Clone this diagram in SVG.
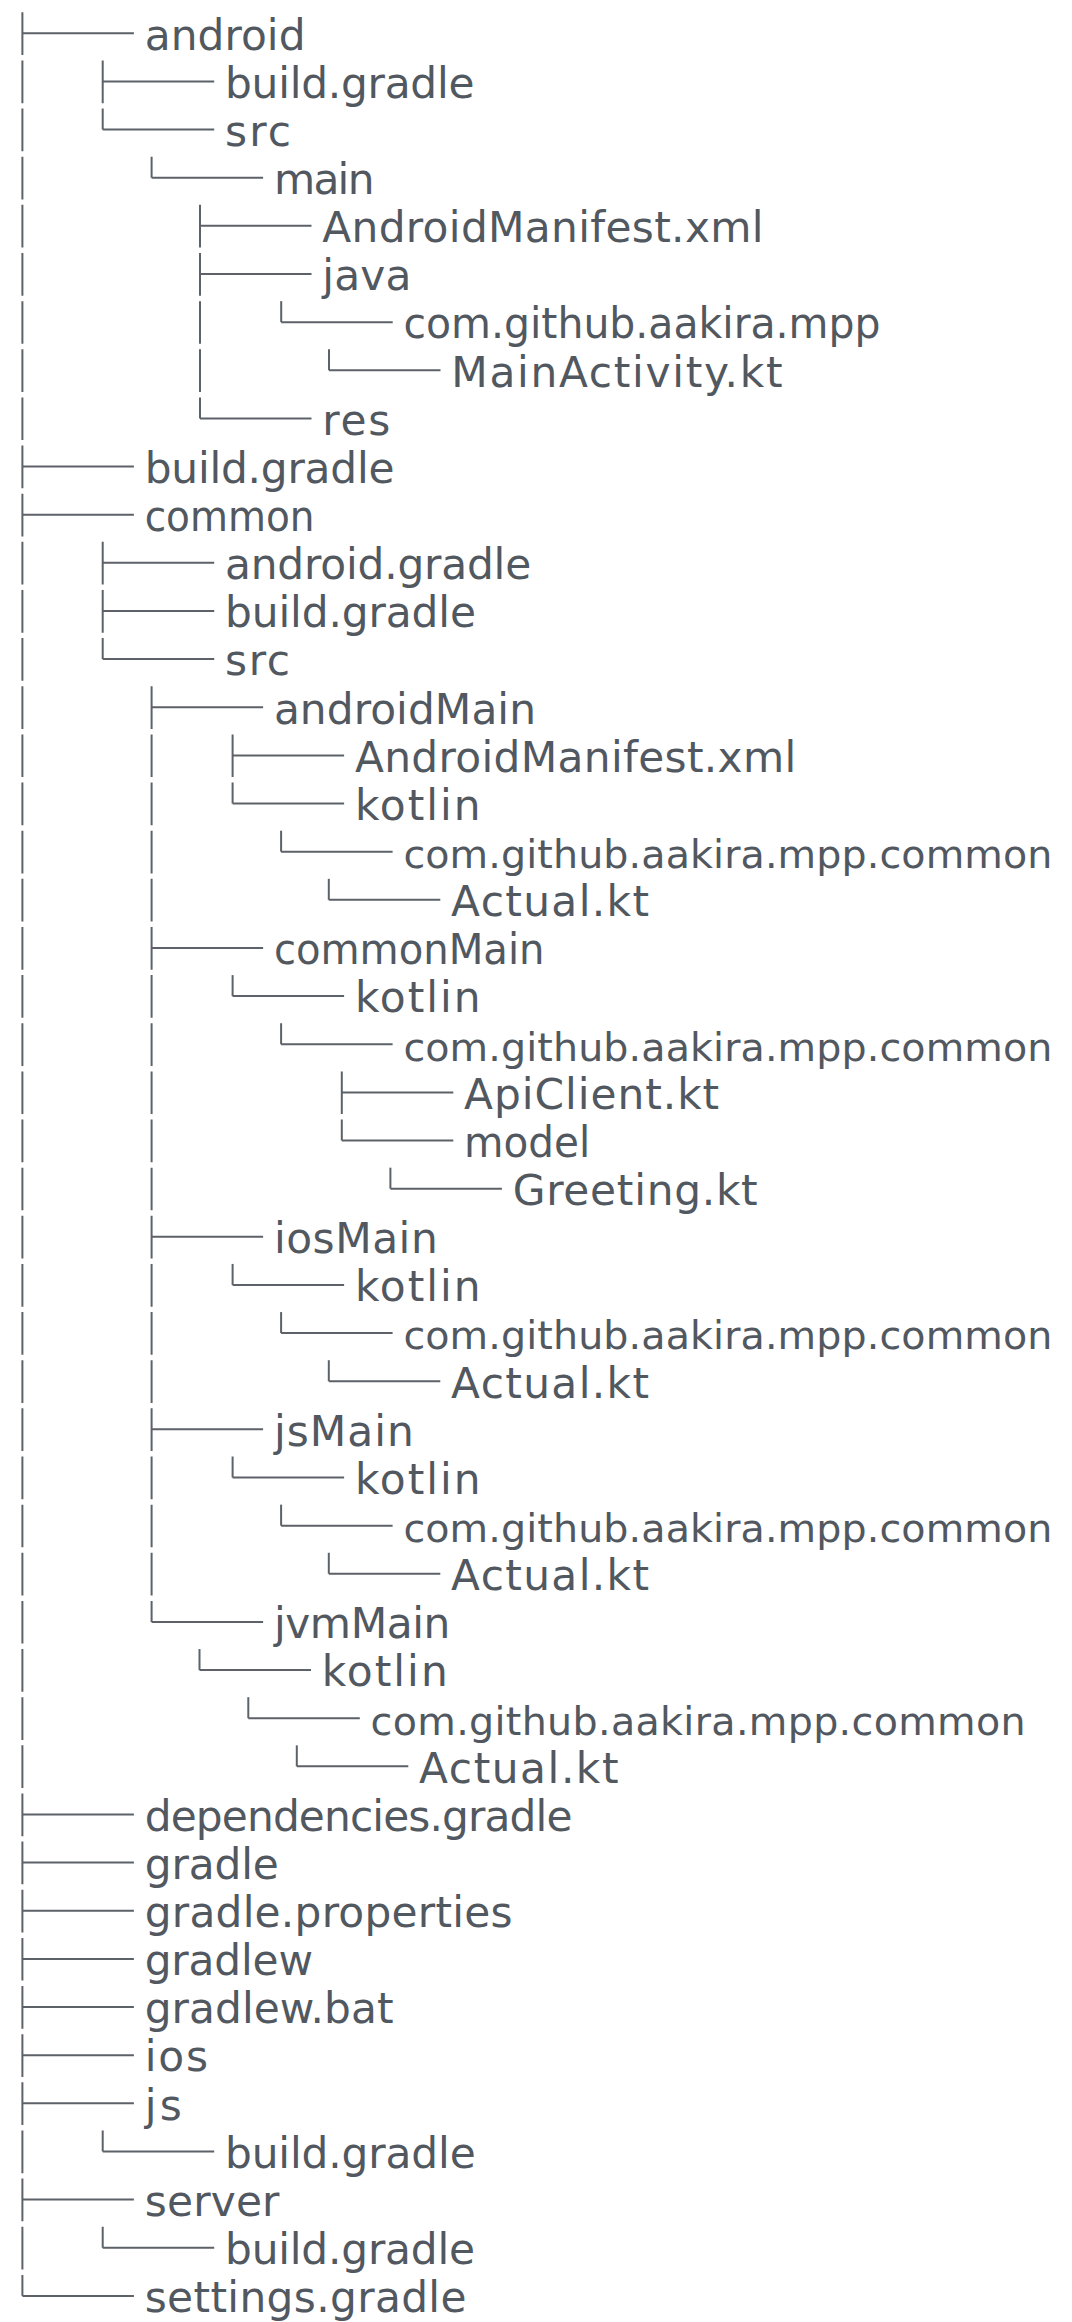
<svg xmlns="http://www.w3.org/2000/svg" width="1072" height="2322" viewBox="0 0 1072 2322">
<style>
.t{font-family:"DejaVu Sans","Liberation Sans",sans-serif;font-size:42.3px;fill:#52585f}
.t.w{font-size:39.6px}
.c{stroke:#5c6268;stroke-width:2;fill:none;stroke-linecap:butt}
.v{stroke-dasharray:42.7 5.44}
</style>
<rect width="1072" height="2322" fill="#ffffff"/>
<g id="connectors">
<path class="c" d="M22.4 33.3H133.9M102.7 81.44H214.2M102.7 129.58H214.2M151.6 177.72H263.1M200 225.86H311.5M200 274H311.5M281.2 322.14H392.7M329 370.28H440.5M200 418.42H311.5M22.4 466.56H133.9M22.4 514.7H133.9M102.7 562.84H214.2M102.7 610.98H214.2M102.7 659.12H214.2M151.6 707.26H263.1M232.6 755.4H344.1M232.6 803.54H344.1M281.1 851.68H392.6M328.8 899.82H440.3M151.6 947.96H263.1M232.6 996.1H344.1M281.1 1044.24H392.6M341.8 1092.38H453.3M341.8 1140.52H453.3M390.4 1188.66H501.9M151.6 1236.8H263.1M232.6 1284.94H344.1M281.1 1333.08H392.6M328.8 1381.22H440.3M151.6 1429.36H263.1M232.6 1477.5H344.1M281.1 1525.64H392.6M328.8 1573.78H440.3M151.6 1621.92H263.1M199.5 1670.06H311M248.3 1718.2H359.8M296.8 1766.34H408.3M22.4 1814.48H133.9M22.4 1862.62H133.9M22.4 1910.76H133.9M22.4 1958.9H133.9M22.4 2007.04H133.9M22.4 2055.18H133.9M22.4 2103.32H133.9M102.7 2151.46H214.2M22.4 2199.6H133.9M102.7 2247.74H214.2M22.4 2295.88H133.9"/>
<line class="c v" x1="22.4" y1="12.3" x2="22.4" y2="2295.88"/>
<line class="c v" x1="102.7" y1="60.44" x2="102.7" y2="129.58"/>
<line class="c v" x1="151.6" y1="156.72" x2="151.6" y2="177.72"/>
<line class="c v" x1="200" y1="204.86" x2="200" y2="418.42"/>
<line class="c v" x1="281.2" y1="301.14" x2="281.2" y2="322.14"/>
<line class="c v" x1="329" y1="349.28" x2="329" y2="370.28"/>
<line class="c v" x1="102.7" y1="541.84" x2="102.7" y2="659.12"/>
<line class="c v" x1="151.6" y1="686.26" x2="151.6" y2="1621.92"/>
<line class="c v" x1="232.6" y1="734.4" x2="232.6" y2="803.54"/>
<line class="c v" x1="281.1" y1="830.68" x2="281.1" y2="851.68"/>
<line class="c v" x1="328.8" y1="878.82" x2="328.8" y2="899.82"/>
<line class="c v" x1="232.6" y1="975.1" x2="232.6" y2="996.1"/>
<line class="c v" x1="281.1" y1="1023.24" x2="281.1" y2="1044.24"/>
<line class="c v" x1="341.8" y1="1071.38" x2="341.8" y2="1140.52"/>
<line class="c v" x1="390.4" y1="1167.66" x2="390.4" y2="1188.66"/>
<line class="c v" x1="232.6" y1="1263.94" x2="232.6" y2="1284.94"/>
<line class="c v" x1="281.1" y1="1312.08" x2="281.1" y2="1333.08"/>
<line class="c v" x1="328.8" y1="1360.22" x2="328.8" y2="1381.22"/>
<line class="c v" x1="232.6" y1="1456.5" x2="232.6" y2="1477.5"/>
<line class="c v" x1="281.1" y1="1504.64" x2="281.1" y2="1525.64"/>
<line class="c v" x1="328.8" y1="1552.78" x2="328.8" y2="1573.78"/>
<line class="c v" x1="199.5" y1="1649.06" x2="199.5" y2="1670.06"/>
<line class="c v" x1="248.3" y1="1697.2" x2="248.3" y2="1718.2"/>
<line class="c v" x1="296.8" y1="1745.34" x2="296.8" y2="1766.34"/>
<line class="c v" x1="102.7" y1="2130.46" x2="102.7" y2="2151.46"/>
<line class="c v" x1="102.7" y1="2226.74" x2="102.7" y2="2247.74"/>
</g>
<g id="n00"><text class="t" x="144.7" y="49.6" textLength="160.8">android</text></g>
<g id="n01"><text class="t" x="225" y="97.74" textLength="249.5">build.gradle</text></g>
<g id="n02"><text class="t" x="225" y="145.88" textLength="66.1">src</text></g>
<g id="n03"><text class="t" x="273.9" y="194.02" textLength="100.6">main</text></g>
<g id="n04"><text class="t" x="322.3" y="242.16" textLength="441.2">AndroidManifest.xml</text></g>
<g id="n05"><text class="t" x="322.3" y="290.3" textLength="89">java</text></g>
<g id="n06"><text class="t" x="403.5" y="338.44" textLength="477" lengthAdjust="spacingAndGlyphs">com.github.aakira.mpp</text></g>
<g id="n07"><text class="t" x="451.3" y="386.58" textLength="331.2">MainActivity.kt</text></g>
<g id="n08"><text class="t" x="322.3" y="434.72" textLength="67.9">res</text></g>
<g id="n09"><text class="t" x="144.7" y="482.86" textLength="249.8">build.gradle</text></g>
<g id="n10"><text class="t" x="144.7" y="531" textLength="169.8" lengthAdjust="spacingAndGlyphs">common</text></g>
<g id="n11"><text class="t" x="225" y="579.14" textLength="306.2">android.gradle</text></g>
<g id="n12"><text class="t" x="225" y="627.28" textLength="251">build.gradle</text></g>
<g id="n13"><text class="t" x="225" y="675.42" textLength="65">src</text></g>
<g id="n14"><text class="t" x="273.9" y="723.56" textLength="262.1">androidMain</text></g>
<g id="n15"><text class="t" x="354.9" y="771.7" textLength="441.3">AndroidManifest.xml</text></g>
<g id="n16"><text class="t" x="354.9" y="819.84" textLength="125.6">kotlin</text></g>
<g id="n17"><text class="t w" x="403.4" y="867.98" textLength="649">com.github.aakira.mpp.common</text></g>
<g id="n18"><text class="t" x="451.1" y="916.12" textLength="197.9">Actual.kt</text></g>
<g id="n19"><text class="t" x="273.9" y="964.26" textLength="270.6" lengthAdjust="spacingAndGlyphs">commonMain</text></g>
<g id="n20"><text class="t" x="354.9" y="1012.4" textLength="125.6">kotlin</text></g>
<g id="n21"><text class="t w" x="403.4" y="1060.54" textLength="649">com.github.aakira.mpp.common</text></g>
<g id="n22"><text class="t" x="464.1" y="1108.68" textLength="255.1">ApiClient.kt</text></g>
<g id="n23"><text class="t" x="464.1" y="1156.82" textLength="126.2" lengthAdjust="spacingAndGlyphs">model</text></g>
<g id="n24"><text class="t" x="512.7" y="1204.96" textLength="245">Greeting.kt</text></g>
<g id="n25"><text class="t" x="273.9" y="1253.1" textLength="163.8">iosMain</text></g>
<g id="n26"><text class="t" x="354.9" y="1301.24" textLength="125.6">kotlin</text></g>
<g id="n27"><text class="t w" x="403.4" y="1349.38" textLength="649">com.github.aakira.mpp.common</text></g>
<g id="n28"><text class="t" x="451.1" y="1397.52" textLength="197.9">Actual.kt</text></g>
<g id="n29"><text class="t" x="273.9" y="1445.66" textLength="140">jsMain</text></g>
<g id="n30"><text class="t" x="354.9" y="1493.8" textLength="125.6">kotlin</text></g>
<g id="n31"><text class="t w" x="403.4" y="1541.94" textLength="649">com.github.aakira.mpp.common</text></g>
<g id="n32"><text class="t" x="451.1" y="1590.08" textLength="197.9">Actual.kt</text></g>
<g id="n33"><text class="t" x="273.9" y="1638.22" textLength="176.5">jvmMain</text></g>
<g id="n34"><text class="t" x="321.8" y="1686.36" textLength="125.9">kotlin</text></g>
<g id="n35"><text class="t w" x="370.6" y="1734.5" textLength="655">com.github.aakira.mpp.common</text></g>
<g id="n36"><text class="t" x="419.1" y="1782.64" textLength="199.4">Actual.kt</text></g>
<g id="n37"><text class="t" x="144.7" y="1830.78" textLength="427.8">dependencies.gradle</text></g>
<g id="n38"><text class="t" x="144.7" y="1878.92" textLength="134.1">gradle</text></g>
<g id="n39"><text class="t" x="144.7" y="1927.06" textLength="367.8">gradle.properties</text></g>
<g id="n40"><text class="t" x="144.7" y="1975.2" textLength="168.3">gradlew</text></g>
<g id="n41"><text class="t" x="144.7" y="2023.34" textLength="248.8">gradlew.bat</text></g>
<g id="n42"><text class="t" x="144.7" y="2071.48" textLength="63.3">ios</text></g>
<g id="n43"><text class="t" x="144.7" y="2119.62" textLength="37">js</text></g>
<g id="n44"><text class="t" x="225" y="2167.76" textLength="250.7">build.gradle</text></g>
<g id="n45"><text class="t" x="144.7" y="2215.9" textLength="134.8">server</text></g>
<g id="n46"><text class="t" x="225" y="2264.04" textLength="250">build.gradle</text></g>
<g id="n47"><text class="t" x="144.7" y="2312.18" textLength="321.8">settings.gradle</text></g>
</svg>
